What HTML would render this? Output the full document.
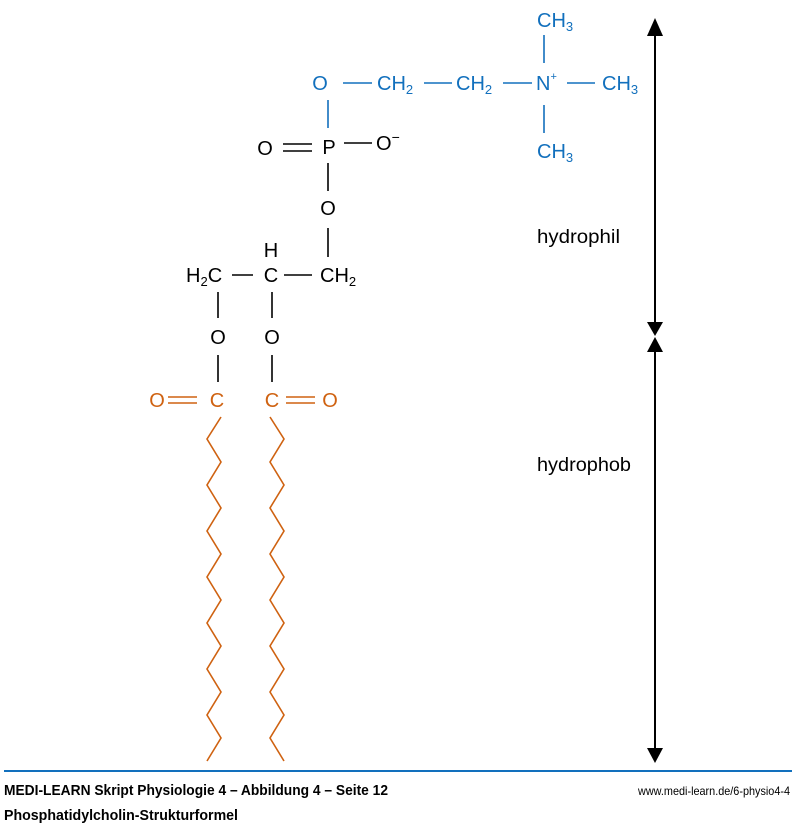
<!DOCTYPE html>
<html><head><meta charset="utf-8"><style>
body{margin:0;background:#fff;width:800px;height:824px;overflow:hidden}
svg{display:block}
.f{font-family:"Liberation Sans",Arial,sans-serif;font-size:20px}
.b{fill:#1270bd}.o{fill:#cf6211}.k{fill:#000}
.ft{font-family:"Liberation Sans",sans-serif;font-weight:bold;font-size:15px}
</style></head><body>
<svg width="800" height="824" xmlns="http://www.w3.org/2000/svg">
<g class="f">
<g stroke="#1270bd" stroke-width="1.6">
<line x1="343" y1="83" x2="372" y2="83"/>
<line x1="424" y1="83" x2="452" y2="83"/>
<line x1="503" y1="83" x2="532" y2="83"/>
<line x1="567" y1="83" x2="595" y2="83"/>
<line x1="544" y1="35" x2="544" y2="63"/>
<line x1="544" y1="105" x2="544" y2="133"/>
<line x1="328" y1="100" x2="328" y2="128"/>
</g>
<text class="b" x="320" y="90" text-anchor="middle">O</text>
<text class="b" x="377" y="90">CH<tspan font-size="13" dy="4">2</tspan></text>
<text class="b" x="456" y="90">CH<tspan font-size="13" dy="4">2</tspan></text>
<text class="b" x="536" y="90">N<tspan font-size="11" dy="-10">+</tspan></text>
<text class="b" x="602" y="90">CH<tspan font-size="13" dy="4">3</tspan></text>
<text class="b" x="537" y="27">CH<tspan font-size="13" dy="4">3</tspan></text>
<text class="b" x="537" y="158">CH<tspan font-size="13" dy="4">3</tspan></text>
<g stroke="#000" stroke-width="1.6">
<line x1="283" y1="144" x2="312" y2="144"/>
<line x1="283" y1="151" x2="312" y2="151"/>
<line x1="344" y1="143" x2="372" y2="143"/>
<line x1="328" y1="163" x2="328" y2="191"/>
<line x1="328" y1="228" x2="328" y2="257"/>
<line x1="232" y1="275" x2="253" y2="275"/>
<line x1="284" y1="275" x2="312" y2="275"/>
<line x1="218" y1="292" x2="218" y2="318"/>
<line x1="272" y1="292" x2="272" y2="318"/>
<line x1="218" y1="355" x2="218" y2="382"/>
<line x1="272" y1="355" x2="272" y2="382"/>
</g>
<text class="k" x="265" y="155" text-anchor="middle">O</text>
<text class="k" x="329" y="154" text-anchor="middle">P</text>
<text class="k" x="376" y="150">O<tspan font-size="14" dy="-8">−</tspan></text>
<text class="k" x="328" y="215" text-anchor="middle">O</text>
<text class="k" x="271" y="257" text-anchor="middle">H</text>
<text class="k" x="186" y="282">H<tspan font-size="13" dy="4">2</tspan><tspan dy="-4">C</tspan></text>
<text class="k" x="271" y="282" text-anchor="middle">C</text>
<text class="k" x="320" y="282">CH<tspan font-size="13" dy="4">2</tspan></text>
<text class="k" x="218" y="344" text-anchor="middle">O</text>
<text class="k" x="272" y="344" text-anchor="middle">O</text>
<g stroke="#cf6211" stroke-width="1.6" fill="none">
<line x1="168" y1="397" x2="197" y2="397"/>
<line x1="168" y1="403" x2="197" y2="403"/>
<line x1="286" y1="397" x2="315" y2="397"/>
<line x1="286" y1="403" x2="315" y2="403"/>
<polyline points="221,417 207,439 221,462 207,485 221,508 207,531 221,554 207,577 221,600 207,623 221,646 207,669 221,692 207,715 221,738 207,761"/>
<polyline points="270,417 284,439 270,462 284,485 270,508 284,531 270,554 284,577 270,600 284,623 270,646 284,669 270,692 284,715 270,738 284,761"/>
</g>
<text class="o" x="157" y="407" text-anchor="middle">O</text>
<text class="o" x="217" y="407" text-anchor="middle">C</text>
<text class="o" x="272" y="407" text-anchor="middle">C</text>
<text class="o" x="330" y="407" text-anchor="middle">O</text>
<text class="k" x="537" y="243" font-size="19" textLength="83" lengthAdjust="spacingAndGlyphs">hydrophil</text>
<text class="k" x="537" y="471" font-size="19" textLength="94" lengthAdjust="spacingAndGlyphs">hydrophob</text>
</g>
<g stroke="#000" stroke-width="2"><line x1="655" y1="28" x2="655" y2="326"/><line x1="655" y1="348" x2="655" y2="752"/></g>
<polygon points="655,18 647,36 663,36"/>
<polygon points="655,336 647,322 663,322"/>
<polygon points="655,337 647,352 663,352"/>
<polygon points="655,763 647,748 663,748"/>
<line x1="4" y1="771" x2="792" y2="771" stroke="#1270bd" stroke-width="2"/>
<text class="ft" x="4" y="795" textLength="384" lengthAdjust="spacingAndGlyphs">MEDI-LEARN Skript Physiologie 4 – Abbildung 4 – Seite 12</text>
<text class="ft" x="4" y="820" textLength="234" lengthAdjust="spacingAndGlyphs">Phosphatidylcholin-Strukturformel</text>
<text x="790" y="795" text-anchor="end" font-family="Liberation Sans,sans-serif" font-size="12" textLength="152" lengthAdjust="spacingAndGlyphs">www.medi-learn.de/6-physio4-4</text>
</svg>
</body></html>
